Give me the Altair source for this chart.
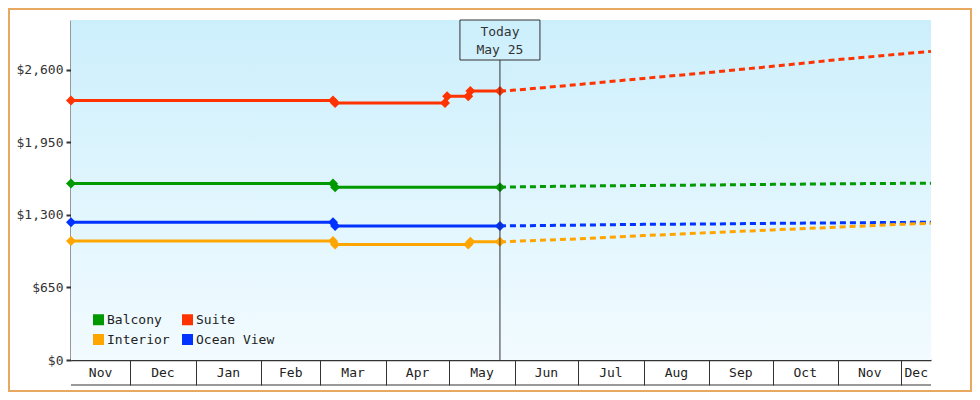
import altair as alt
import pandas as pd

FONT = "DejaVu Sans Mono"
INK = "#333333"
W, H = 860, 340

# legend fills column by column: Balcony/Interior, then Suite/Ocean View
SERIES = ["Balcony", "Interior", "Suite", "Ocean View"]
COLORS = ["#009900", "#FFA500", "#FF3300", "#0033FF"]

# price history up to today; each change appears as an old/new pair of points
suite_dates = ["2022-11-03", "2023-03-07", "2023-03-08", "2023-04-29",
               "2023-04-30", "2023-05-10", "2023-05-11", "2023-05-25"]
suite_prices = [2325, 2325, 2301, 2301, 2361, 2361, 2409, 2409]
balcony_dates = ["2022-11-03", "2023-03-07", "2023-03-08", "2023-05-25"]
balcony_prices = [1580, 1580, 1548, 1548]
ocean_dates = ["2022-11-03", "2023-03-07", "2023-03-08", "2023-05-25"]
ocean_prices = [1234, 1234, 1201, 1201]
interior_dates = ["2022-11-03", "2023-03-07", "2023-03-08",
                  "2023-05-10", "2023-05-11", "2023-05-25"]
interior_prices = [1066, 1066, 1034, 1034, 1058, 1058]

# forecast from today to the end of the range
fc_dates = ["2023-05-25", "2023-06-01", "2023-07-01", "2023-08-01", "2023-09-01",
            "2023-10-01", "2023-11-01", "2023-12-01", "2023-12-15"]
suite_fc = [2409, 2417, 2467, 2522, 2575, 2630, 2690, 2741, 2764]
balcony_fc = [1548, 1550, 1558, 1563, 1567, 1573, 1578, 1582, 1584]
ocean_fc = [1201, 1202, 1208, 1215, 1218, 1224, 1228, 1232, 1234]
interior_fc = [1058, 1063, 1085, 1114, 1140, 1165, 1190, 1215, 1225]

y_ticks = [0, 650, 1300, 1950, 2600]
Y_MAX = 3045
X_START, X_END = "2022-11-03", "2023-12-15"
TODAY = "2023-05-25"
today_lines = ["Today", "May 25"]
month_starts = ["2022-12-01", "2023-01-01", "2023-02-01", "2023-03-01", "2023-04-01",
                "2023-05-01", "2023-06-01", "2023-07-01", "2023-08-01", "2023-09-01",
                "2023-10-01", "2023-11-01", "2023-12-01"]
month_names = ["Nov", "Dec", "Jan", "Feb", "Mar", "Apr", "May",
               "Jun", "Jul", "Aug", "Sep", "Oct", "Nov", "Dec"]

hist = pd.concat([
    pd.DataFrame({"date": d, "price": p, "series": s})
    for s, d, p in [("Suite", suite_dates, suite_prices),
                    ("Balcony", balcony_dates, balcony_prices),
                    ("Ocean View", ocean_dates, ocean_prices),
                    ("Interior", interior_dates, interior_prices)]
])
hist["date"] = pd.to_datetime(hist["date"])

fc = pd.concat([
    pd.DataFrame({"date": fc_dates, "price": p, "series": s})
    for s, p in [("Suite", suite_fc), ("Balcony", balcony_fc),
                 ("Ocean View", ocean_fc), ("Interior", interior_fc)]
])
fc["date"] = pd.to_datetime(fc["date"])

# month label positions: middle of each (clipped) month cell
edges = pd.to_datetime([X_START] + month_starts + [X_END])
months = pd.DataFrame({"name": month_names, "mid": edges[:-1] + (edges[1:] - edges[:-1]) / 2})

today_df = pd.DataFrame({"date": pd.to_datetime([TODAY])})
today_text_df = pd.DataFrame({"date": pd.to_datetime([TODAY]), "label": [today_lines]})
one = pd.DataFrame({"a": [0]})


def dt(s):
    t = pd.Timestamp(s)
    return alt.DateTime(year=t.year, month=t.month, date=t.day)


x_scale = alt.Scale(domain=[dt(X_START), dt(X_END)])
x_axis = alt.Axis(values=[dt(m) for m in month_starts], labels=False, title=None,
                  grid=False, tickSize=25, tickColor=INK, tickWidth=1,
                  domainColor=INK, domainWidth=1.5)
y_scale = alt.Scale(domain=[0, Y_MAX], nice=False)
y_axis = alt.Axis(values=y_ticks, format="$,.0f", title=None, grid=False,
                  tickSize=5, tickWidth=2, tickColor=INK, domainColor=INK,
                  domainWidth=2, labelPadding=3)
color_scale = alt.Scale(domain=SERIES, range=COLORS)
legend = alt.Legend(
    title=None, orient="none", legendX=21, legendY=293, columns=2,
    symbolType="square", symbolSize=121, symbolStrokeWidth=0, symbolOpacity=1,
    labelFont=FONT, labelFontSize=13, labelColor="#222222", labelOffset=2,
    rowPadding=6, columnPadding=11, padding=0)


def xenc(field):
    return alt.X(field, type="temporal", scale=x_scale, axis=x_axis)


def yenc(field):
    return alt.Y(field, type="quantitative", scale=y_scale, axis=y_axis)


def cenc():
    return alt.Color("series:N", scale=color_scale, legend=legend)


backdrop = alt.Chart(one).mark_rect(
    color=alt.Gradient(gradient="linear",
                       stops=[alt.GradientStop(color="#CCEFFC", offset=0),
                              alt.GradientStop(color="#F2FBFF", offset=1)],
                       x1=0, x2=0, y1=0, y2=1)
).encode(x=alt.value(0), x2=alt.value(W), y=alt.value(0), y2=alt.value(H))

border = alt.Chart(one).mark_rect(fillOpacity=0, stroke="#E8A860", strokeWidth=2).encode(
    x=alt.value(-62), x2=alt.value(W + 40), y=alt.value(-11), y2=alt.value(H + 31))

markers = alt.Chart(hist).mark_point(shape="diamond", filled=True, size=100, opacity=1).encode(
    x=xenc("date"), y=yenc("price"), color=cenc())

hist_lines = alt.Chart(hist).mark_line(strokeWidth=3).encode(
    x=xenc("date"), y=yenc("price"), color=cenc(), detail="series:N")

fc_lines = alt.Chart(fc).mark_line(strokeWidth=3, strokeDash=[6, 4]).encode(
    x=xenc("date"), y=yenc("price"), color=cenc(), detail="series:N")

today_rule = alt.Chart(today_df).mark_rule(color=INK, strokeWidth=1).encode(
    x=xenc("date"), y=alt.value(40), y2=alt.value(H))

today_box = alt.Chart(today_df).mark_point(
    shape="M-1,-0.5L1,-0.5L1,0.5L-1,0.5Z", size=6400, filled=False,
    stroke=INK, strokeWidth=1, opacity=1
).encode(x=xenc("date"), y=alt.value(20))

today_text = alt.Chart(today_text_df).mark_text(
    font=FONT, fontSize=13, color=INK, lineHeight=18, baseline="middle"
).encode(x=xenc("date"), y=alt.value(12), text="label")

month_text = alt.Chart(months).mark_text(
    font=FONT, fontSize=13, color="#222222", baseline="middle"
).encode(x=xenc("mid"), y=alt.value(H + 13), text="name:N")

bottom_line = alt.Chart(one).mark_rule(color=INK, strokeWidth=1).encode(
    x=alt.value(0), x2=alt.value(W), y=alt.value(H + 25))

chart = alt.layer(
    backdrop, border, markers, hist_lines, fc_lines,
    today_rule, today_box, today_text, month_text, bottom_line
).properties(
    width=W, height=H, padding=0, background="white"
).configure_axis(
    labelFont=FONT, labelFontSize=13, labelColor=INK
).configure_view(strokeWidth=0)

chart.save("out.html", embed_options={"renderer": "svg", "actions": False})
